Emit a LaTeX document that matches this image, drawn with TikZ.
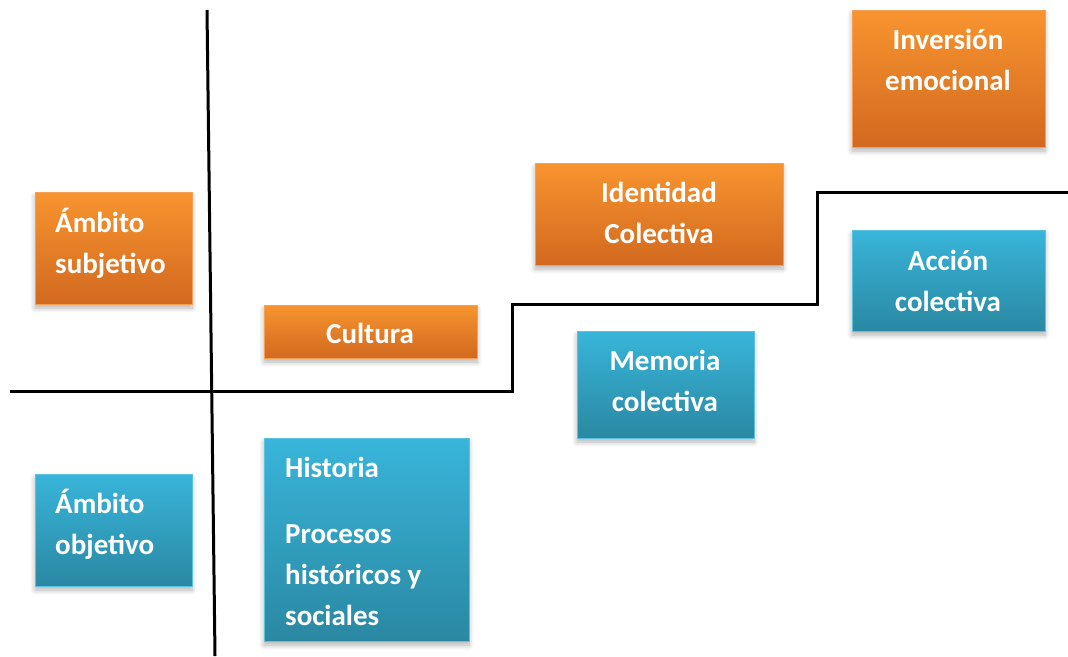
\documentclass[tikz,border=0pt]{standalone}
\usepackage{fontspec}
\setmainfont{Carlito}
\usetikzlibrary{shadows.blur}
\definecolor{otop}{HTML}{F8942F}
\definecolor{obot}{HTML}{D2691F}
\definecolor{oedge}{HTML}{F5A055}
\definecolor{btop}{HTML}{38B5DA}
\definecolor{bbot}{HTML}{2A88A2}
\definecolor{bedge}{HTML}{5BC3E0}
\tikzset{
  box/.style={rectangle, inner sep=0pt, line width=1pt,
    blur shadow={shadow xshift=0pt, shadow yshift=-4pt, shadow blur steps=8, shadow blur radius=5pt, shadow opacity=30}},
  obox/.style={box, draw=oedge, top color=otop, bottom color=obot},
  bbox/.style={box, draw=bedge, top color=btop, bottom color=bbot},
  txt/.style={text=white, font=\bfseries\fontsize{29}{41}\selectfont, inner sep=0pt},
  ctxt/.style={txt, align=center, anchor=base},
  ltxt/.style={txt, align=left, anchor=base west},
  divider/.style={black, line width=3pt}
}
\begin{document}
\begin{tikzpicture}[x=1pt,y=-1pt]
\useasboundingbox (0,0) rectangle (1068,656);
% boxes
\node[obox, minimum width=157pt, minimum height=112pt] (subj) at (113.5,248) {};
\node[obox, minimum width=213pt, minimum height=53pt] (cult) at (370.5,331.5) {};
\node[obox, minimum width=248pt, minimum height=102pt] (iden) at (659,214) {};
\node[obox, minimum width=193pt, minimum height=137pt] (inv) at (948.5,78.5) {};
\node[bbox, minimum width=157pt, minimum height=112pt] (obj) at (113.5,530) {};
\node[bbox, minimum width=205pt, minimum height=203pt] (hist) at (366.5,539.5) {};
\node[bbox, minimum width=177pt, minimum height=107pt] (mem) at (665.5,384.5) {};
\node[bbox, minimum width=193pt, minimum height=101pt] (acc) at (948.5,280.5) {};
% texts (anchor = baseline of the last line)
\node[ltxt] (tsubj) at (55,273) {Ámbito\\subjetivo};
\node[ctxt] (tcult) at (370,343) {Cultura};
\node[ctxt] (tiden) at (659,243) {Identidad\\Colectiva};
\node[ctxt] (tinv) at (948,90) {Inversión\\emocional};
\node[ltxt] (tobj) at (55,554) {Ámbito\\objetivo};
\node[ltxt] (thist) at (285,625) {Historia\\[25pt]Procesos\\históricos y\\sociales};
\node[ctxt] (tmem) at (665,411) {Memoria\\colectiva};
\node[ctxt] (tacc) at (948,311) {Acción\\colectiva};
% dividing lines
\coordinate (vtop) at (207,10);
\coordinate (vbot) at (215,656);
\coordinate (h0) at (10,391);
\coordinate (h1) at (512,391);
\coordinate (h2) at (512,304);
\coordinate (h3) at (817,304);
\coordinate (h4) at (817,192);
\coordinate (h5) at (1068,192);
\draw[divider] (vtop) -- (vbot);
\draw[divider, line join=miter] (h0) -- (h1) -- (h2) -- (h3) -- (h4) -- (h5);
\end{tikzpicture}
\end{document}
